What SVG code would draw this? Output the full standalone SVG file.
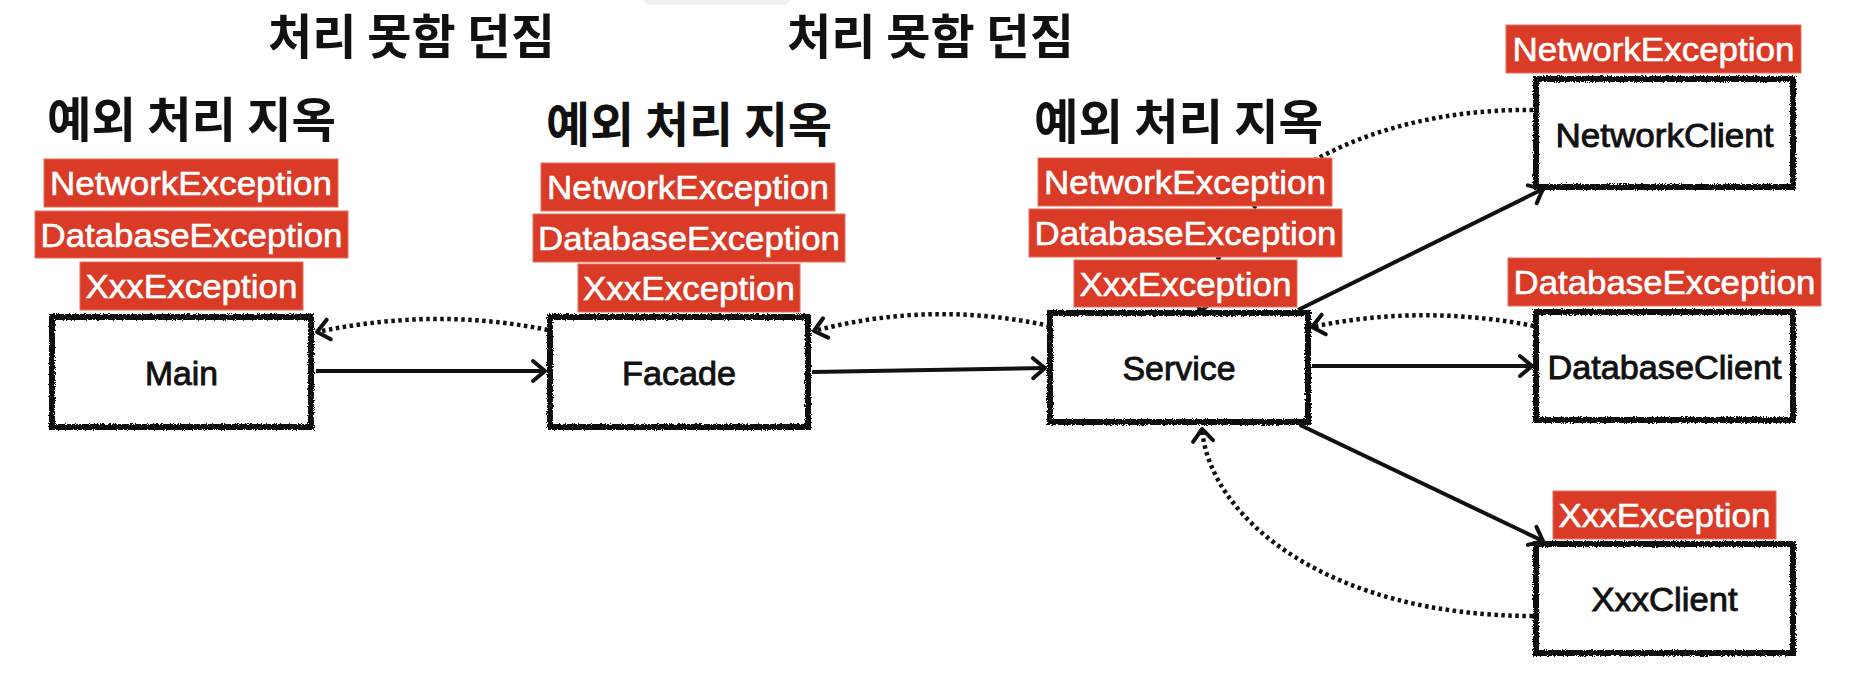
<svg xmlns="http://www.w3.org/2000/svg" width="1850" height="676" viewBox="0 0 1850 676">
<style>
.hdr{font-family:"Noto Sans CJK KR","Noto Sans",sans-serif;font-weight:700;font-size:48px;fill:#111}
.box{fill:#fff;stroke:#111;stroke-width:6}
.nlab{font-family:"Liberation Sans",Arial,sans-serif;font-size:34px;fill:#111;stroke:#111;stroke-width:0.9;text-anchor:middle}
.exc{fill:#d93b27;stroke:#e8705f;stroke-width:1}
.etxt{font-family:"Liberation Sans",Arial,sans-serif;font-size:34px;fill:#fff;stroke:#fff;stroke-width:0.6;text-anchor:middle}
.solid{fill:none;stroke:#111;stroke-width:4}
.dot{fill:none;stroke:#111;stroke-width:4.5;stroke-dasharray:3.5 3.5}
</style>
<defs>
<filter id="rough" x="-10%" y="-10%" width="120%" height="120%">
<feTurbulence type="fractalNoise" baseFrequency="0.9" numOctaves="2" seed="4" result="n"/>
<feDisplacementMap in="SourceGraphic" in2="n" scale="4" xChannelSelector="R" yChannelSelector="G"/>
</filter>
<marker id="arr" markerUnits="userSpaceOnUse" markerWidth="30" markerHeight="30" refX="0" refY="0" viewBox="-16 -15 20 30" orient="auto" overflow="visible">
<path d="M -12 -10 L 0 0 L -12 10" fill="none" stroke="#111" stroke-width="4" stroke-dasharray="none" stroke-linecap="round" stroke-linejoin="round"/>
</marker>
</defs>
<rect width="1850" height="676" fill="#fff"/>
<rect x="643" y="-20" width="148" height="25" rx="8" fill="#f1f1f3"/>

<g id="headers">
<text class="hdr" x="268" y="54" textLength="287" lengthAdjust="spacingAndGlyphs">처리 못함 던짐</text>
<text class="hdr" x="787" y="54" textLength="287" lengthAdjust="spacingAndGlyphs">처리 못함 던짐</text>
<text class="hdr" x="47" y="137" textLength="289" lengthAdjust="spacingAndGlyphs">예외 처리 지옥</text>
<text class="hdr" x="546" y="142" textLength="286" lengthAdjust="spacingAndGlyphs">예외 처리 지옥</text>
<text class="hdr" x="1034" y="139" textLength="289" lengthAdjust="spacingAndGlyphs">예외 처리 지옥</text>
</g>

<g id="node-main">
<rect class="box" x="52" y="317" width="259" height="110" filter="url(#rough)"/>
<text class="nlab" x="181.5" y="385" textLength="73" lengthAdjust="spacingAndGlyphs">Main</text>
</g>
<g id="node-facade">
<rect class="box" x="550" y="317" width="258" height="110" filter="url(#rough)"/>
<text class="nlab" x="679" y="385" textLength="114" lengthAdjust="spacingAndGlyphs">Facade</text>
</g>
<g id="node-service">
<rect class="box" x="1050" y="313" width="258" height="109" filter="url(#rough)"/>
<text class="nlab" x="1179" y="380" textLength="113" lengthAdjust="spacingAndGlyphs">Service</text>
</g>
<g id="node-networkclient">
<rect class="box" x="1536" y="79" width="257" height="108" filter="url(#rough)"/>
<text class="nlab" x="1664.5" y="147" textLength="218" lengthAdjust="spacingAndGlyphs">NetworkClient</text>
</g>
<g id="node-databaseclient">
<rect class="box" x="1536" y="312" width="257" height="108" filter="url(#rough)"/>
<text class="nlab" x="1664.5" y="379" textLength="234" lengthAdjust="spacingAndGlyphs">DatabaseClient</text>
</g>
<g id="node-xxxclient">
<rect class="box" x="1536" y="544" width="257" height="109" filter="url(#rough)"/>
<text class="nlab" x="1664.5" y="611" textLength="146" lengthAdjust="spacingAndGlyphs">XxxClient</text>
</g>

<g id="connectors">
<path class="solid" d="M 316 371 L 545 371" marker-end="url(#arr)"/>
<path class="solid" d="M 812 372 L 1045 368" marker-end="url(#arr)"/>
<path class="solid" d="M 1312 366 L 1532 366" marker-end="url(#arr)"/>
<path class="solid" d="M 1298 310 L 1543 189" marker-end="url(#arr)"/>
<path class="solid" d="M 1300 425 L 1543 541" marker-end="url(#arr)"/>
<path class="dot" d="M 548 330 Q 435 307 317 332" marker-end="url(#arr)"/>
<path class="dot" d="M 1050 326 Q 931 300 814 331" marker-end="url(#arr)"/>
<path class="dot" d="M 1534 326 Q 1421 304 1312 327" marker-end="url(#arr)"/>
<path class="dot" d="M 1533 110 C 1400 108 1230 160 1201 311" marker-end="url(#arr)"/>
<path class="dot" d="M 1533 616 C 1330 616 1210 520 1202 429" marker-end="url(#arr)"/>
</g>

<g id="exceptions">
<rect class="exc" x="44" y="159" width="294" height="48"/>
<text class="etxt" x="191" y="195" textLength="282" lengthAdjust="spacingAndGlyphs">NetworkException</text>
<rect class="exc" x="35" y="211" width="313" height="47"/>
<text class="etxt" x="191.5" y="247" textLength="302" lengthAdjust="spacingAndGlyphs">DatabaseException</text>
<rect class="exc" x="80" y="262" width="223" height="48"/>
<text class="etxt" x="191.5" y="298" textLength="212" lengthAdjust="spacingAndGlyphs">XxxException</text>

<rect class="exc" x="541" y="163" width="294" height="48"/>
<text class="etxt" x="688" y="199" textLength="282" lengthAdjust="spacingAndGlyphs">NetworkException</text>
<rect class="exc" x="533" y="214" width="312" height="48"/>
<text class="etxt" x="689" y="250" textLength="302" lengthAdjust="spacingAndGlyphs">DatabaseException</text>
<rect class="exc" x="578" y="264" width="222" height="48"/>
<text class="etxt" x="689" y="300" textLength="212" lengthAdjust="spacingAndGlyphs">XxxException</text>

<rect class="exc" x="1038" y="158" width="294" height="48"/>
<text class="etxt" x="1185" y="194" textLength="282" lengthAdjust="spacingAndGlyphs">NetworkException</text>
<rect class="exc" x="1029" y="209" width="313" height="48"/>
<text class="etxt" x="1185.5" y="245" textLength="302" lengthAdjust="spacingAndGlyphs">DatabaseException</text>
<rect class="exc" x="1074" y="260" width="223" height="47"/>
<text class="etxt" x="1185.5" y="296" textLength="212" lengthAdjust="spacingAndGlyphs">XxxException</text>

<rect class="exc" x="1506" y="25" width="295" height="48"/>
<text class="etxt" x="1653.5" y="61" textLength="282" lengthAdjust="spacingAndGlyphs">NetworkException</text>
<rect class="exc" x="1508" y="258" width="313" height="48"/>
<text class="etxt" x="1664.5" y="294" textLength="302" lengthAdjust="spacingAndGlyphs">DatabaseException</text>
<rect class="exc" x="1553" y="491" width="223" height="48"/>
<text class="etxt" x="1664.5" y="527" textLength="212" lengthAdjust="spacingAndGlyphs">XxxException</text>
</g>
</svg>
